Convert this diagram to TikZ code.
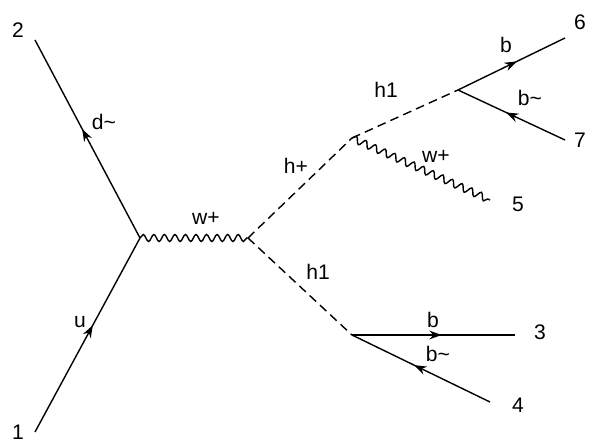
\documentclass[tikz,border=0pt]{standalone}
\usepackage{fontspec}
\setmainfont{Liberation Sans}
\usetikzlibrary{decorations.pathmorphing, decorations.markings, arrows.meta}

\tikzset{
    fermion/.style={thick, postaction={decorate}, decoration={markings,
        mark=at position 0.55 with {\arrow{Stealth[length=7pt,width=5pt]}}}},
    scalar/.style={thick, dashed, dash pattern=on 5pt off 3pt},
    boson/.style={thick, decorate, decoration={snake, amplitude=2pt, segment length=6pt}},
    lbl/.style={font=\large}
}

\begin{document}
\begin{tikzpicture}[x=0.02cm, y=-0.02cm]
\useasboundingbox (0,0) rectangle (612,448);

% external legs and vertices
\coordinate (e1) at (35,432);
\coordinate (e2) at (35,40);
\coordinate (v1) at (140,238);
\coordinate (v2) at (248,238);
\coordinate (v3) at (352,138);
\coordinate (v4) at (458,90);
\coordinate (e6) at (565,38);
\coordinate (e7) at (565,140);
\coordinate (e5) at (490,200);
\coordinate (v5) at (352,335);
\coordinate (e3) at (515,335);
\coordinate (e4) at (490,402);

\draw[fermion] (e1) -- (v1);
\draw[fermion] (v1) -- (e2);
\draw[boson] (v1) -- (v2);
\draw[scalar] (v2) -- (v3);
\draw[scalar] (v2) -- (v5);
\draw[scalar] (v3) -- (v4);
\draw[boson] (v3) -- (e5);
\draw[fermion] (v4) -- (e6);
\draw[fermion] (e7) -- (v4);
\draw[fermion] (v5) -- (e3);
\draw[fermion] (e4) -- (v5);

% particle labels
\node[lbl] (n1) at (18,432) {1};
\node[lbl] (n2) at (18,30) {2};
\node[lbl] (n3) at (540,332) {3};
\node[lbl] (n4) at (518,405) {4};
\node[lbl] (n5) at (518,204) {5};
\node[lbl] (n6) at (580,22) {6};
\node[lbl] (n7) at (580,140) {7};

\node[lbl] (ldb) at (104,122) {d\char`~};
\node[lbl] (lu) at (80,322) {u};
\node[lbl] (lw1) at (206,218) {w+};
\node[lbl] (lhp) at (296,166) {h+};
\node[lbl] (lh1a) at (318,272) {h1};
\node[lbl] (lh1b) at (386,90) {h1};
\node[lbl] (lw2) at (436,156) {w+};
\node[lbl] (lb1) at (506,45) {b};
\node[lbl] (lbb1) at (530,98) {b\char`~};
\node[lbl] (lb2) at (433,320) {b};
\node[lbl] (lbb2) at (438,354) {b\char`~};
\end{tikzpicture}
\end{document}
